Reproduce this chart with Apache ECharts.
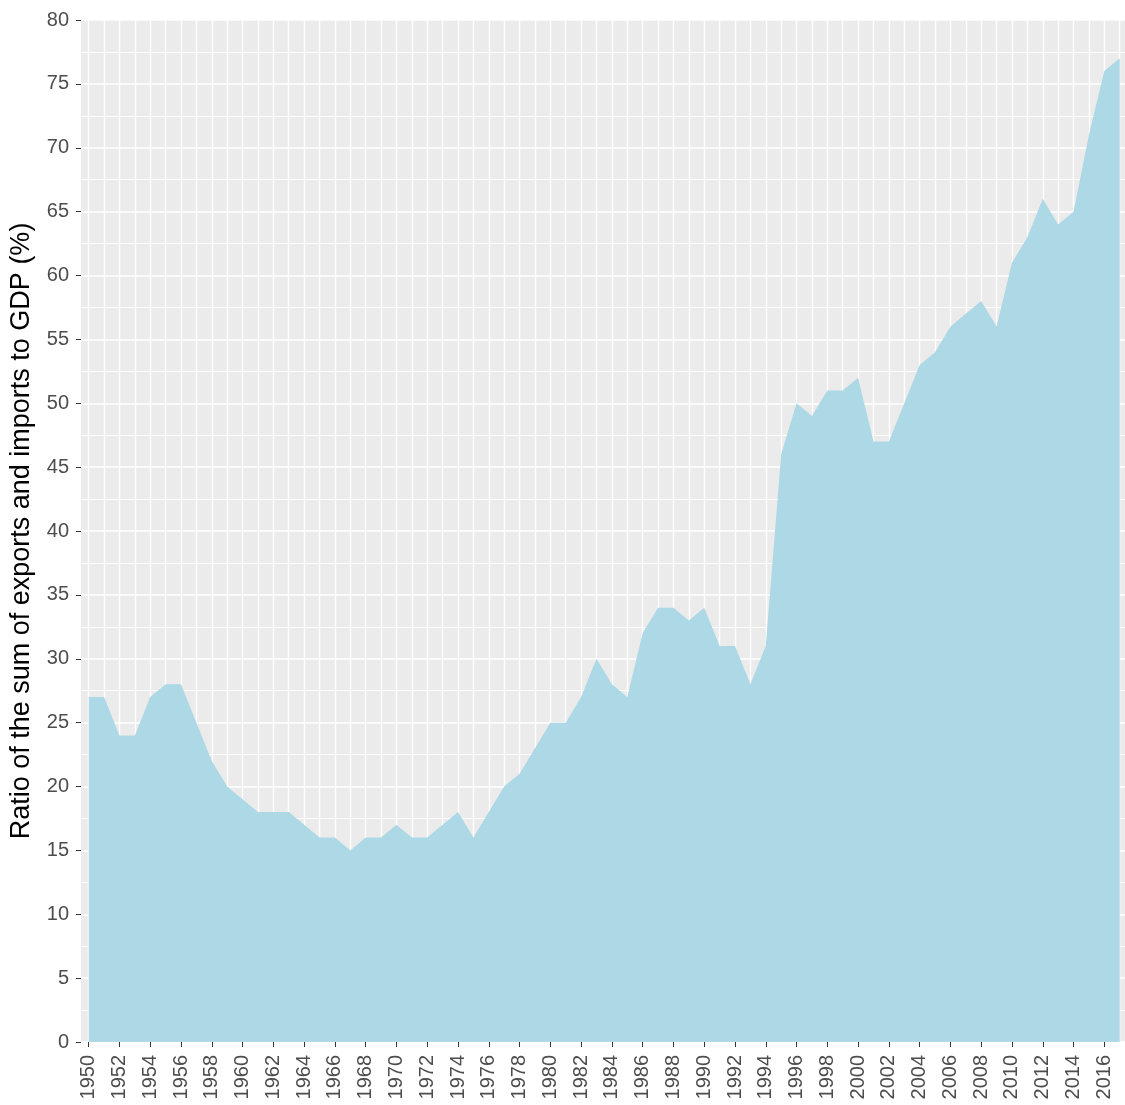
<!DOCTYPE html>
<html>
<head>
<meta charset="utf-8">
<script src="https://cdn.jsdelivr.net/npm/echarts@6/dist/echarts.min.js"></script>
<style>
  html, body { margin: 0; padding: 0; background: #fff; }
  #main { width: 1125px; height: 1105px; }
</style>
</head>
<body>
<div id="main"></div>
<script>
// years on the x axis and the ratio
var years = [];
for (var y = 1950; y <= 2017; y++) years.push(String(y));

var ratio = [
  27, 27, 24, 24, 27, 28, 28, 25, 22, 20,   // 1950-1959
  19, 18, 18, 18, 17, 16, 16, 15, 16, 16,   // 1960-1969
  17, 16, 16, 17, 18, 16, 18, 20, 21, 23,   // 1970-1979
  25, 25, 27, 30, 28, 27, 32, 34, 34, 33,   // 1980-1989
  34, 31, 31, 28, 31, 46, 50, 49, 51, 51,   // 1990-1999
  52, 47, 47, 50, 53, 54, 56, 57, 58, 56,   // 2000-2009
  61, 63, 66, 64, 65, 71, 76, 77            // 2010-2017
];

var yTitle = 'Ratio of the sum of exports and imports to GDP (%)';
var font = '"Liberation Sans", Arial, sans-serif';

var chart = echarts.init(document.getElementById('main'));

var option = {
  animation: false,
  backgroundColor: '#ffffff',
  grid: [
    // grey panel with the horizontal grid lines (x runs 1949.5 .. 2017.5)
    { left: 81, right: -2.4, top: 20, bottom: 63, show: true,
      backgroundColor: '#EBEBEB', borderWidth: 0, outerBoundsMode: 'none' },
    // data area, 1950 .. 2017
    { left: 88.7, right: 5.3, top: 20, bottom: 63, outerBoundsMode: 'none' }
  ],
  xAxis: [
    { gridIndex: 0, type: 'value', min: 0, max: 1, show: false },
    {
      gridIndex: 1, type: 'category', data: years, boundaryGap: false,
      axisLine: { show: false },
      axisTick: { show: true, interval: 1, length: 5, lineStyle: { color: '#333333', width: 1 } },
      axisLabel: {
        interval: 1, rotate: 90, margin: 13,
        color: '#4D4D4D', fontSize: 20, fontFamily: font
      },
      splitLine: { show: true, interval: 0, lineStyle: { color: '#FFFFFF', width: 1.4 } }
    }
  ],
  yAxis: [
    {
      gridIndex: 0, type: 'value', min: 0, max: 80, interval: 5,
      name: yTitle, nameLocation: 'middle', nameGap: 46,
      nameTextStyle: { color: '#000000', fontSize: 27, fontFamily: font },
      axisLine: { show: false },
      axisTick: { show: true, length: 5, lineStyle: { color: '#333333', width: 1 } },
      axisLabel: { margin: 12, color: '#4D4D4D', fontSize: 20, fontFamily: font },
      splitLine: { show: true, lineStyle: { color: '#FFFFFF', width: 1.6 } },
      minorTick: { show: false, splitNumber: 2 },
      minorSplitLine: { show: true, lineStyle: { color: '#FFFFFF', width: 0.9 } }
    },
    { gridIndex: 1, type: 'value', min: 0, max: 80, show: false, splitLine: { show: false } }
  ],
  series: [{
    type: 'line',
    xAxisIndex: 1,
    yAxisIndex: 1,
    data: ratio,
    symbol: 'none',
    lineStyle: { width: 0 },
    areaStyle: { color: '#ADD8E6', opacity: 1 }
  }]
};

chart.setOption(option);
</script>
</body>
</html>
